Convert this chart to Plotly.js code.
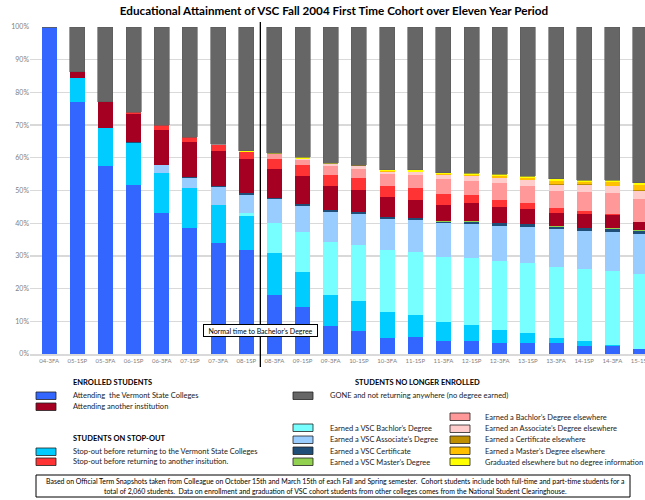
<!DOCTYPE html>
<html>
<head>
<meta charset="utf-8">
<script src="https://cdn.plot.ly/plotly-3.0.1.min.js"></script>
<style>html,body{margin:0;padding:0;background:#fff;overflow:hidden}</style>
</head>
<body>
<div id="chart" style="width:645px;height:500px"></div>
<script>
// ---------- DATA ----------
const categories = ['04-3FA','05-1SP','05-3FA','06-1SP','06-3FA','07-1SP','07-3FA','08-1SP','08-3FA','09-1SP','09-3FA','10-1SP','10-3FA','11-1SP','11-3FA','12-1SP','12-3FA','13-1SP','13-3FA','14-1SP','14-3FA','15-1SP'];

const attendVSC   = [100,77.1,57.4,51.7,43.2,38.6,34.0,31.9,18.0,14.5,8.7,7.1,4.9,5.2,4.0,4.0,3.4,3.4,3.4,2.4,2.4,1.5];
const stopVSC     = [0,7.2,11.7,12.9,12.2,12.2,11.5,10.4,13.0,10.6,9.3,9.1,7.9,6.7,5.8,4.9,3.9,3.0,1.5,1.6,0.3,0];
const vscBach     = [0,0,0,0,0,0,0,0.9,9.1,12.2,16.2,17.1,19.0,19.3,19.8,20.4,21.1,21.4,21.7,22.0,22.7,22.9];
const vscAssoc    = [0,0,0,0,2.4,3.1,5.6,5.5,7.3,8.0,9.2,9.6,9.4,9.7,10.4,10.4,10.7,11.0,11.6,11.6,11.9,12.3];
const vscCert     = [0,0,0,0.2,0,0.2,0.3,0.4,0.4,0.6,0.6,0.4,0.6,0.8,0.5,0.7,0.9,0.9,0.5,0.9,0.9,0.9];
const vscMast     = [0,0,0,0,0,0,0,0,0,0,0,0,0,0,0.3,0.3,0,0,0.3,0,0.3,0.3];
const attendOther = [0,2.0,8.0,8.5,10.7,10.8,10.7,10.6,8.7,8.4,7.3,6.8,6.1,5.3,4.9,5.4,4.9,4.6,4.0,4.3,4.0,2.4];
const stopOther   = [0,0,0,0.7,1.4,1.4,1.7,2.1,3.1,3.4,3.4,3.7,3.6,3.7,3.1,2.4,2.1,1.8,1.5,0.9,0.4,0];
const bachElse    = [0,0,0,0,0,0,0,0,1.5,1.5,2.9,2.7,3.4,4.0,4.6,4.3,5.3,5.2,5.5,5.8,6.3,7.0];
const assocElse   = [0,0,0,0,0,0,0.3,0,0,0.5,0.5,1.0,0.9,1.0,1.2,1.5,1.5,1.8,1.8,2.2,2.2,2.4];
const certElse    = [0,0,0,0,0,0,0,0,0,0,0,0.2,0,0,0,0,0,0,0.3,0.4,0,0.6];
const mastElse    = [0,0,0,0,0,0,0,0,0,0,0,0,0.2,0,0.3,0.4,0.5,0.6,0.9,0.4,1.1,1.3];
const gradElse    = [0,0,0,0,0,0,0,0.3,0.3,0.4,0.2,0,0.4,0.6,0.5,0.6,0.6,0.6,0.6,0.6,0.6,0.8];
const gone        = [0,13.7,22.9,26.0,30.1,33.7,35.9,37.9,38.6,39.9,41.7,42.3,43.6,43.7,44.6,44.7,45.1,45.7,46.4,46.9,46.9,47.6];

const seriesNames = [
  'Attending  the Vermont State Colleges',
  'Stop-out before returning to the Vermont State Colleges',
  'Earned a VSC Bachlor\u2019s Degree',
  'Earned a VSC Associate\u2019s Degree',
  'Earned a VSC Certificate',
  'Earned a VSC Master\u2019s Degree',
  'Attending another institution',
  'Stop-out before returning to another insitution.',
  'Earned a Bachlor\u2019s Degree elsewhere',
  'Earned an Associate\u2019s Degree elsewhere',
  'Earned a Certificate elsewhere',
  'Earned a Master\u2019s Degree elsewhere',
  'Graduated elsewhere but no degree information',
  'GONE and not returning anywhere (no degree earned)'
];
const seriesValues = [attendVSC, stopVSC, vscBach, vscAssoc, vscCert, vscMast, attendOther, stopOther, bachElse, assocElse, certElse, mastElse, gradElse, gone];

// ---------- STYLE ----------
const seriesColors = ['#3366FF','#00CCFF','#77FFFF','#99CCFF','#1F4E79','#92D050','#A50021','#FF3333','#FF9999','#FFCCCC','#BF8F00','#FFC000','#FFFF00','#666666'];
const FONT = 'Lato, "Open Sans", sans-serif';

const W = 645, H = 500, ML = 30, MR = 0, MT = 27, MB = 146;
const PW = W - ML - MR, PH = H - MT - MB;
const px = x => (x - ML) / PW;
const py = y => (H - MB - y) / PH;

const traces = seriesValues.map((vals, i) => ({
  type: 'bar',
  name: seriesNames[i],
  x: categories,
  y: vals,
  marker: {color: seriesColors[i], line: {width: i === 13 ? 0.6 : 0, color: '#5a5a5a'}},
  hoverinfo: 'x+y+name'
}));

// custom legend layout: [series index, swatch left, swatch top, text left, text center y]
const legendSpots = [
  [0, 36, 392, 71, 395.5],
  [6, 36, 403, 71, 406.8],
  [1, 36, 448, 71, 451.3],
  [7, 36, 458, 71, 461.5],
  [13, 293, 392, 328, 395.3],
  [2, 293, 424, 328, 428],
  [3, 293, 436, 328, 439.5],
  [4, 293, 447, 328, 451],
  [5, 293, 458, 328, 462],
  [8, 450, 413, 483, 417],
  [9, 450, 425, 483, 428.5],
  [10, 450, 436, 483, 439.5],
  [11, 450, 447, 483, 451],
  [12, 450, 458, 483, 462]
];

const shapes = [
  {type: 'line', xref: 'x', yref: 'paper', x0: 7.5, x1: 7.5, y0: py(367), y1: py(22), line: {color: '#000', width: 1.3}},
  {type: 'rect', xref: 'paper', yref: 'paper', x0: px(36), x1: px(630), y0: py(497), y1: py(475), line: {color: '#000', width: 1}, fillcolor: 'rgba(0,0,0,0)'}
];
const annotations = [
  {xref: 'x', yref: 'y', x: 7.5, y: 7.05, text: 'Normal time to Bachelor\u2019s Degree', showarrow: false,
   bgcolor: '#fff', bordercolor: '#000', borderwidth: 1, borderpad: 1.5, width: 110, height: 8,
   font: {family: FONT, size: 7, color: '#000'}},
  {xref: 'paper', yref: 'paper', x: px(71), y: py(382), xanchor: 'left', yanchor: 'middle', showarrow: false,
   text: '<b>ENROLLED STUDENTS</b>', font: {family: FONT, size: 7.5, color: '#000'}},
  {xref: 'paper', yref: 'paper', x: px(71), y: py(438), xanchor: 'left', yanchor: 'middle', showarrow: false,
   text: '<b>STUDENTS ON STOP-OUT</b>', font: {family: FONT, size: 7.5, color: '#000'}},
  {xref: 'paper', yref: 'paper', x: px(353), y: py(382), xanchor: 'left', yanchor: 'middle', showarrow: false,
   text: '<b>STUDENTS NO LONGER ENROLLED</b>', font: {family: FONT, size: 7.5, color: '#000'}},
  {xref: 'paper', yref: 'paper', x: px(335), y: py(481), xanchor: 'center', yanchor: 'middle', showarrow: false,
   text: 'Based on Official Term Snapshots taken from Colleague on October 15th and March 15th of each Fall and Spring semester.  Cohort students include both full-time and part-time students for a',
   font: {family: FONT, size: 6.95, color: '#000'}},
  {xref: 'paper', yref: 'paper', x: px(335), y: py(491.5), xanchor: 'center', yanchor: 'middle', showarrow: false,
   text: 'total of 2,060 students.  Data on enrollment and graduation of VSC cohort students from other colleges comes from the National Student Clearinghouse.',
   font: {family: FONT, size: 6.95, color: '#000'}}
];
legendSpots.forEach(([si, sx, sy, tx, ty]) => {
  shapes.push({type: 'rect', xref: 'paper', yref: 'paper', x0: px(sx), x1: px(sx + 20), y0: py(sy + 7.5), y1: py(sy),
    fillcolor: seriesColors[si], line: {color: '#222', width: 0.8}});
  annotations.push({xref: 'paper', yref: 'paper', x: px(tx), y: py(ty), xanchor: 'left', yanchor: 'middle', showarrow: false,
    text: seriesNames[si], font: {family: FONT, size: 7.5, color: '#222'}});
});

const layout = {
  width: W, height: H,
  margin: {l: ML, r: MR, t: MT, b: MB, pad: 0},
  paper_bgcolor: '#fff', plot_bgcolor: '#fff',
  barmode: 'stack', bargap: 0.467,
  showlegend: false,
  font: {family: FONT},
  title: {text: '<b>Educational Attainment of VSC Fall 2004 First Time Cohort over Eleven Year Period</b>',
          font: {family: FONT, size: 11.7, color: '#000'}, x: 334 / W, xanchor: 'center', y: 1 - 11 / H, yanchor: 'middle'},
  xaxis: {type: 'category', range: [-0.68, 21.16], showgrid: false, zeroline: false,
          showline: true, linecolor: '#d9d9d9', linewidth: 1.5, ticks: '',
          tickfont: {family: FONT, size: 6, color: '#7f7f7f'}, ticklabeloverflow: 'allow', tickangle: 0},
  yaxis: {range: [0, 100], dtick: 10, ticksuffix: '%', showgrid: true, gridcolor: '#d9d9d9', gridwidth: 1.3,
          zeroline: false, showline: false, ticks: '', tickfont: {family: FONT, size: 7, color: '#7f7f7f'}},
  shapes: shapes,
  annotations: annotations
};

Plotly.newPlot('chart', traces, layout, {displayModeBar: false, staticPlot: true});
</script>
</body>
</html>
